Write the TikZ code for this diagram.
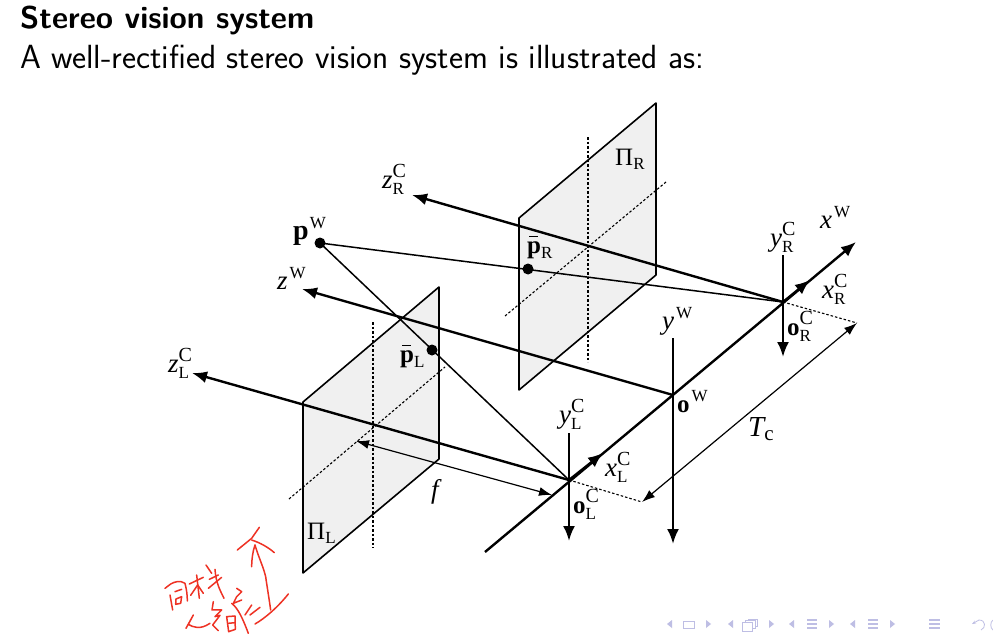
\documentclass[tikz,border=0pt]{standalone}
\usepackage{fontspec}
\newfontfamily\dfont{Liberation Serif}
\usetikzlibrary{arrows.meta}
\definecolor{navc}{RGB}{190,190,228}
\definecolor{penred}{RGB}{238,50,36}
\definecolor{planec}{RGB}{240,240,240}
\newcommand{\SupT}[1]{\raisebox{11pt}{\fontsize{20}{20}\selectfont #1}}
\newcommand{\SupW}[1]{\raisebox{11pt}{\fontsize{17}{17}\selectfont #1}}
\newcommand{\SubT}[1]{\raisebox{-6pt}{\fontsize{17}{17}\selectfont #1}}
\newcommand{\SubSup}[3]{{\fontsize{27}{27}\selectfont\itshape #1}\rlap{\SupT{#2}}\SubT{#3}}
\newcommand{\BSubSup}[3]{{\fontsize{25}{25}\selectfont\bfseries #1}\rlap{\SupT{#2}}\SubT{#3}}
\newcommand{\VSup}[2]{{\fontsize{27}{27}\selectfont\itshape #1}\kern2pt\SupW{#2}}
\newcommand{\PBar}[1]{\rlap{\kern2pt\raisebox{16pt}{\rule{9pt}{1.3pt}}}{\fontsize{25}{25}\selectfont\bfseries p}\raisebox{-5pt}{\fontsize{17}{17}\selectfont #1}}
\tikzset{
  plane/.style={draw=black,fill=planec,line width=1.6pt,line join=round},
  guide/.style={dash pattern=on 2.5pt off 2pt,line width=1.1pt},
  thickax/.style={line width=2.4pt,-{Latex[length=15pt,width=12pt]}},
  thinray/.style={line width=1.5pt},
  dimline/.style={line width=1.2pt,{Latex[length=13pt,width=9pt]}-{Latex[length=13pt,width=9pt]}},
  dotpt/.style={circle,fill=black,inner sep=0pt,minimum size=11pt},
  lab/.style={inner sep=0pt,font=\dfont},
  pen/.style={draw=penred,line width=1.5pt,line cap=round,line join=round},
  nav/.style={draw=navc,line width=.8pt},
  navt/.style={fill=navc,draw=none}
}
\begin{document}
\begin{tikzpicture}[x=1pt,y=-1pt]
\useasboundingbox (0,0) rectangle (993,634);
\fill[white] (0,0) rectangle (993,634);
\node[anchor=base west,inner sep=0pt,font=\sffamily\bfseries\fontsize{31.4}{31.4}\selectfont] (title) at (20,28.5) {Stereo vision system};
\node[anchor=base west,inner sep=0pt,font=\sffamily\fontsize{33.5}{33.5}\selectfont] (sub) at (20,68.5) {A well-rectified stereo vision system is illustrated as:};
% coordinates
\coordinate (oL) at (569,480); \coordinate (oW) at (673,395); \coordinate (oR) at (783,302);
\coordinate (xs) at (485,552); \coordinate (xe) at (856,242);
\coordinate (dL) at (642,502); \coordinate (dR) at (857,323);
% right plane
\draw[plane] (519,218) -- (656,103) -- (656,275) -- (519,390) -- cycle;
\draw[guide] (588,137) -- (588,362);
\draw[guide] (505,316) -- (666,182);
% left plane
\draw[plane] (303,402) -- (439,287) -- (439,459) -- (303,573) -- cycle;
\draw[guide] (373,322) -- (373,548);
\draw[guide] (289,499) -- (445,367);
% points
\node[dotpt] (pW) at (320,243) {};
\node[dotpt] (pL) at (432,350) {};
\node[dotpt] (pR) at (528,269) {};
% rays
\draw[thinray] (pW.center) -- (oL);
\draw[thinray] (pW.center) -- (oR);
% axes
\draw[thickax] (xs) -- (xe);
\draw[thickax] (oL) -- (603,453);
\draw[thickax] (oR) -- (810,280);
\coordinate (zLe) at (192,373); \coordinate (zWe) at (302,289); \coordinate (zRe) at (412,195);
\draw[thickax] (oL) -- (zLe);
\draw[thickax] (oW) -- (zWe);
\draw[thickax] (oR) -- (zRe);
\coordinate (yWs) at (673,338); \coordinate (yWe) at (673,544);
\coordinate (yLs) at (569,433); \coordinate (yLe) at (569,541);
\coordinate (yRs) at (783,255); \coordinate (yRe) at (783,357);
\draw[thickax] (yWs) -- (yWe);
\draw[thickax] (yLs) -- (yLe);
\draw[thickax] (yRs) -- (yRe);
% dims
\draw[guide] (oL) -- (dL);
\draw[guide] (oR) -- (dR);
\draw[dimline] (dL) -- (dR);
\coordinate (fa) at (356,441); \coordinate (fb) at (552,495);
\draw[dimline] (fa) -- (fb);
% labels
\node[lab,anchor=base west] (lzR) at (382,188) {\SubSup{z}{C}{R}};
\node[lab,anchor=base west] (lzL) at (168,372) {\SubSup{z}{C}{L}};
\node[lab,anchor=base west] (lzW) at (277,289) {\VSup{z}{W}};
\node[lab,anchor=base west] (lpW) at (293,239) {{\fontsize{28}{28}\selectfont\bfseries p}\kern1pt\SupW{W}};
\node[lab,anchor=base west] (lpR) at (527,253) {\PBar{R}};
\node[lab,anchor=base west] (lpL) at (400,362) {\PBar{L}};
\node[lab,anchor=base west] (lPiR) at (615,165) {{\fontsize{25}{25}\selectfont Π}\raisebox{-4pt}{\fontsize{17}{17}\selectfont R}};
\node[lab,anchor=base west] (lPiL) at (307,539) {{\fontsize{25}{25}\selectfont Π}\raisebox{-4pt}{\fontsize{17}{17}\selectfont L}};
\node[lab,anchor=base west] (lyR) at (770,246) {\SubSup{y}{C}{R}};
\node[lab,anchor=base west] (lyL) at (559,423) {\SubSup{y}{C}{L}};
\node[lab,anchor=base west] (lyW) at (662,329) {\VSup{y}{W}};
\node[lab,anchor=base west] (lxW) at (820,228) {\VSup{x}{W}};
\node[lab,anchor=base west] (lxR) at (822,298) {\SubSup{x}{C}{R}};
\node[lab,anchor=base west] (lxL) at (605,476) {\SubSup{x}{C}{L}};
\node[lab,anchor=base west] (loR) at (787,335) {\BSubSup{o}{C}{R}};
\node[lab,anchor=base west] (loL) at (573,513) {\BSubSup{o}{C}{L}};
\node[lab,anchor=base west] (loW) at (677,412) {{\fontsize{25}{25}\selectfont\bfseries o}\kern2pt\SupW{W}};
\node[lab,anchor=base west] (lf) at (431,498) {{\fontsize{27}{27}\selectfont\itshape f}};
\node[lab,anchor=base west] (lT) at (748,436) {{\fontsize{29}{29}\selectfont\itshape T}\raisebox{-4pt}{\fontsize{21}{21}\selectfont c}};
% handwriting
\begin{scope}[pen,shift={(150,520)},x=.3333pt,y=-.3333pt]
\draw (262,90) -- (305,55) -- (328,22);
\draw (305,60) .. controls (330,68) and (355,82) .. (373,98);
\draw (315,75) .. controls (308,95) and (305,120) .. (305,140);
\draw (315,75) .. controls (325,110) and (340,140) .. (347,170) .. controls (352,205) and (358,240) .. (362,270);
\draw (315,312) .. controls (345,295) and (385,260) .. (415,222);
% first row
\draw (45,205) -- (62,192) .. controls (75,185) and (90,180) .. (105,190) .. controls (110,210) and (112,225) .. (112,243);
\draw (60,225) -- (68,270);
\draw (75,215) -- (95,208);
\draw (78,237) -- (95,230) -- (92,250) -- (77,253) -- cycle;
\draw (118,192) -- (160,172);
\draw (140,165) -- (148,235);
\draw (122,226) -- (143,195) -- (160,220);
\draw (168,135) -- (185,160);
\draw (178,178) -- (205,165);
\draw (175,205) -- (215,172);
\draw (195,148) .. controls (198,190) and (210,210) .. (222,235);
% second row
\draw (108,325) -- (130,285) -- (115,313) .. controls (130,322) and (150,330) .. (180,310);
\draw (190,245) -- (186,270) -- (215,270) -- (195,290) -- (210,286) -- (188,315) -- (205,332);
\draw (230,290) -- (255,288) -- (256,328) -- (236,335) -- cycle;
\draw (235,310) -- (255,308);
\draw (260,205) -- (275,215) -- (260,230) -- (250,250) -- (275,240);
\draw (245,250) .. controls (265,265) and (280,300) .. (295,340);
\draw (285,285) -- (305,255);
\draw (300,285) -- (330,262);
\end{scope}
% nav
\begin{scope}
\fill[navt] (667,624) -- (672,620) -- (672,628) -- cycle;
\draw[nav] (683,621) rectangle (694,628);
\fill[navt] (706,620) -- (711,624) -- (706,628) -- cycle;
\fill[navt] (728,624) -- (733,620) -- (733,628) -- cycle;
\draw[nav] (742,622) rectangle (752,631);
\draw[nav] (745,622) -- (745,620) -- (755,620) -- (755,628) -- (752,628);
\draw[nav] (748,620) -- (748,619) -- (757,619) -- (757,626) -- (755,626);
\fill[navt] (769,620) -- (774,624) -- (769,628) -- cycle;
\fill[navt] (789,624) -- (794,620) -- (794,628) -- cycle;
\draw[nav,line width=1.4pt] (807,620) -- (817,620) (807,624) -- (817,624) (807,628) -- (817,628);
\fill[navt] (829,620) -- (834,624) -- (829,628) -- cycle;
\fill[navt] (850,624) -- (855,620) -- (855,628) -- cycle;
\draw[nav,line width=1.4pt] (868,620) -- (878,620) (868,624) -- (878,624) (868,628) -- (878,628);
\fill[navt] (890,620) -- (895,624) -- (890,628) -- cycle;
\draw[nav,line width=1.4pt] (929,620) -- (940,620) (929,624) -- (940,624) (929,628) -- (940,628);
\draw[nav,->,>={Stealth[length=4pt]}] (981,630) .. controls (986,628) and (986,620) .. (979,620) -- (972,624);
\draw[nav] (993,620) .. controls (990,622) and (990,628) .. (993,630);
\end{scope}
\end{tikzpicture}
\end{document}
